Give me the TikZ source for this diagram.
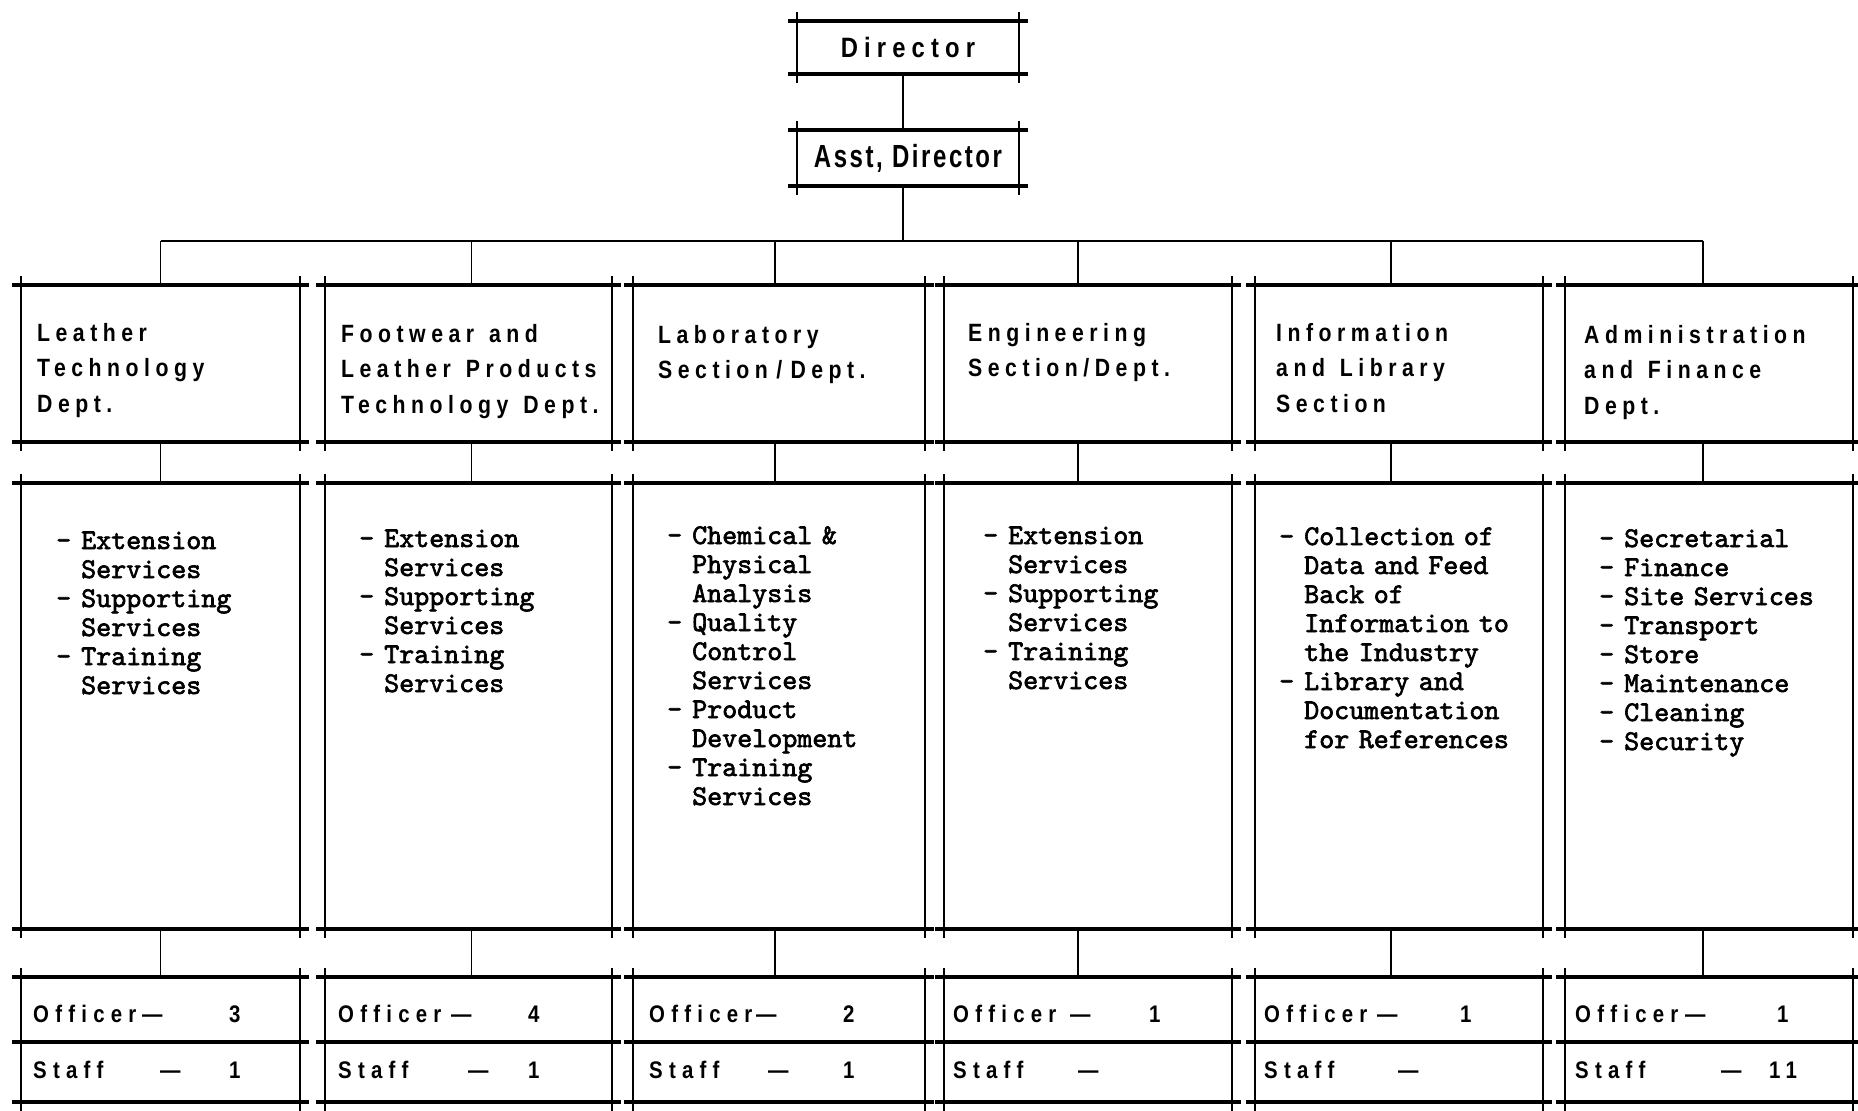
\documentclass[tikz,border=0pt]{standalone}
\usepackage{fontspec}
\setmainfont{Liberation Sans}
\newfontfamily\lett[LetterSpace=22,FakeStretch=0.85]{Liberation Sans Bold}
\newfontfamily\letttally[LetterSpace=26,FakeStretch=0.85]{Liberation Sans Bold}
\newfontfamily\lettasst[LetterSpace=8,FakeStretch=0.75]{Liberation Sans Bold}
\newfontfamily\typew{lmmono10-regular}[Extension=.otf,FakeBold=2.2]
\usetikzlibrary{calc}
\newcommand\draftbox[1]{%
  \draw[hl] ([xshift=-9pt]#1.north west) -- ([xshift=9pt]#1.north east);
  \draw[hl] ([xshift=-9pt]#1.south west) -- ([xshift=9pt]#1.south east);
  \draw[vl] ([yshift=9pt]#1.north west) -- ([yshift=-9pt]#1.south west);
  \draw[vl] ([yshift=9pt]#1.north east) -- ([yshift=-9pt]#1.south east);
}
\newcommand\itm[1]{\makebox[25pt][l]{-}#1}
\newcommand\indl[1]{\hspace*{25pt}#1}
\newcommand\wsp{\hspace{15pt}\ignorespaces}
\newcommand\tally[4]{\makebox[#2pt][l]{#1}\makebox[\dimexpr#3pt-#2pt\relax][l]{—}#4}
\begin{document}
\begin{tikzpicture}[x=1pt,y=-1pt,
  boxnode/.style={draw=none, inner sep=0pt, outer sep=0pt},
  hl/.style={line width=3.6pt},
  vl/.style={line width=2.6pt},
  conn/.style={line width=1.8pt},
  busline/.style={line width=2.6pt},
  ttl/.style={anchor=base west, inner sep=0pt, align=left, text width=290pt, font=\lett\fontsize{25}{35.5}\selectfont},
  lst/.style={anchor=base west, inner sep=0pt, align=left, text width=270pt, font=\typew\fontsize{28.6}{29}\selectfont},
  tallytext/.style={anchor=base west, inner sep=0pt, font=\letttally\fontsize{24}{28}\selectfont}
]
\useasboundingbox (0,0) rectangle (1858,1111);

% top boxes
\node[boxnode, minimum width=222pt, minimum height=53pt] (dir) at (908,47.5) {\lett\fontsize{28}{30}\selectfont Director};
\node[boxnode, minimum width=222pt, minimum height=56pt] (asst) at (908,158) {\lettasst\fontsize{32}{34}\selectfont Asst, Director};

% column boxes
\foreach \i/\cx/\w in {1/160.5/279, 2/468.5/287, 3/779/292, 4/1088/288, 5/1399/288, 6/1709/288}{
  \node[boxnode, minimum width=\w pt, minimum height=157pt] (h\i) at (\cx,363.5) {};
  \node[boxnode, minimum width=\w pt, minimum height=446pt] (c\i) at (\cx,706) {};
  \node[boxnode, minimum width=\w pt, minimum height=65pt] (o\i) at (\cx,1009.5) {};
  \node[boxnode, minimum width=\w pt, minimum height=60pt] (s\i) at (\cx,1072) {};
}

% connectors
\draw[conn] ([xshift=-5pt]dir.south) -- ([xshift=-5pt]asst.north);
\coordinate (bus) at ($(asst.south)+(-5,55)$);
\draw[conn] ([xshift=-5pt]asst.south) -- (bus);
\foreach \i/\dx in {1/0, 2/3, 3/-4, 4/-10, 5/-8, 6/-6}{
  \coordinate (d\i) at ($(h\i.north)+(\dx,0)$);
  \draw[conn] (d\i |- bus) -- (d\i);
  \draw[conn] ($(h\i.south)+(\dx,0)$) -- ($(c\i.north)+(\dx,0)$);
  \draw[conn] ($(c\i.south)+(\dx,0)$) -- ($(o\i.north)+(\dx,0)$);
}
\draw[busline] (d1 |- bus) -- (d6 |- bus);

% frames
\draftbox{dir}
\draftbox{asst}
\foreach \i in {1,...,6}{
  \draftbox{h\i}
  \draftbox{c\i}
  \draftbox{o\i}
  \draftbox{s\i}
}

% department titles
\node[ttl] (h1t) at (37,341) {Leather\\Technology\\Dept.};
\node[ttl] (h2t) at (341,342) {Footwear\wsp and\\Leather\wsp Products\\Technology\wsp Dept.};
\node[ttl] (h3t) at (658,343) {Laboratory\\Section / Dept.};
\node[ttl] (h4t) at (968,341) {Engineering\\Section/Dept.};
\node[ttl] (h5t) at (1276,341) {Information\\and\wsp Library\\Section};
\node[ttl] (h6t) at (1584,343) {Administration\\and\wsp Finance\\Dept.};

% duties
\node[lst] (c1t) at (56,549) {\itm{Extension}\\\indl{Services}\\\itm{Supporting}\\\indl{Services}\\\itm{Training}\\\indl{Services}};
\node[lst] (c2t) at (359,547) {\itm{Extension}\\\indl{Services}\\\itm{Supporting}\\\indl{Services}\\\itm{Training}\\\indl{Services}};
\node[lst] (c3t) at (667,544) {\itm{Chemical \&}\\\indl{Physical}\\\indl{Analysis}\\\itm{Quality}\\\indl{Control}\\\indl{Services}\\\itm{Product}\\\indl{Development}\\\itm{Training}\\\indl{Services}};
\node[lst] (c4t) at (983,544) {\itm{Extension}\\\indl{Services}\\\itm{Supporting}\\\indl{Services}\\\itm{Training}\\\indl{Services}};
\node[lst] (c5t) at (1279,545) {\itm{Collection of}\\\indl{Data and Feed}\\\indl{Back of}\\\indl{Information to}\\\indl{the Industry}\\\itm{Library  and}\\\indl{Documentation}\\\indl{for References}};
\node[lst] (c6t) at (1599,547) {\itm{Secretarial}\\\itm{Finance}\\\itm{Site Services}\\\itm{Transport}\\\itm{Store}\\\itm{Maintenance}\\\itm{Cleaning}\\\itm{Security}};

% staffing
\node[tallytext] (o1t) at (33,1022) {\tally{Officer}{109}{196}{3}};
\node[tallytext] (s1t) at (33,1078) {\tally{Staff}{127}{196}{1}};
\node[tallytext] (o2t) at (338,1022) {\tally{Officer}{113}{190}{4}};
\node[tallytext] (s2t) at (338,1078) {\tally{Staff}{130}{190}{1}};
\node[tallytext] (o3t) at (649,1022) {\tally{Officer}{107}{194}{2}};
\node[tallytext] (s3t) at (649,1078) {\tally{Staff}{119}{194}{1}};
\node[tallytext] (o4t) at (953,1022) {\tally{Officer}{117}{196}{1}};
\node[tallytext] (s4t) at (953,1078) {\tally{Staff}{125}{196}{}};
\node[tallytext] (o5t) at (1264,1022) {\tally{Officer}{113}{196}{1}};
\node[tallytext] (s5t) at (1264,1078) {\tally{Staff}{134}{196}{}};
\node[tallytext] (o6t) at (1575,1022) {\tally{Officer}{110}{202}{1}};
\node[tallytext] (s6t) at (1575,1078) {\tally{Staff}{146}{194}{11}};
\end{tikzpicture}
\end{document}
